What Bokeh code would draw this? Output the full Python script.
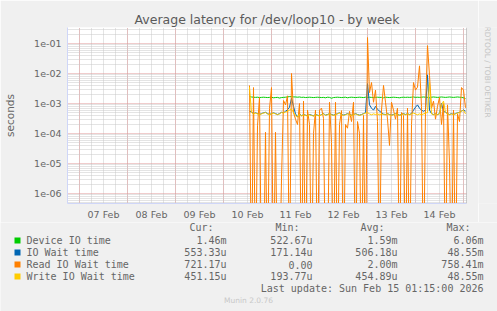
import math
from datetime import datetime, timedelta
import pandas as pd
from bokeh.plotting import figure
from bokeh.layouts import column, row
from bokeh.models import Range1d, FixedTicker, CustomJSTickFormatter, Span
from bokeh.core.properties import value
from bokeh.embed import file_html
from bokeh.resources import INLINE

# ---------------- data ----------------
title_text = "Average latency for /dev/loop10 - by week"
y_label = "seconds"
series_names = ["Device IO time", "IO Wait time", "Read IO Wait time", "Write IO Wait time"]
series_colors = ["#00CC00", "#0066B3", "#FF8000", "#FFCC00"]
col_headers = ["Cur:", "Min:", "Avg:", "Max:"]
cur_vals = ["1.46m", "553.33u", "721.17u", "451.15u"]
min_vals = ["522.67u", "171.14u", "0.00", "193.77u"]
avg_vals = ["1.59m", "506.18u", "2.00m", "454.89u"]
max_vals = ["6.06m", "48.55m", "758.41m", "48.55m"]
last_update = "Last update: Sun Feb 15 01:15:00 2026"
footer = "Munin 2.0.76"
side_text = "RRDTOOL / TOBI OETIKER"

first_sample = "2026-02-10 13:00"   # hourly samples from here on
view_start = datetime(2026, 2, 6, 18, 0)
view_end = datetime(2026, 2, 15, 1, 30)
day_labels = ["07 Feb", "08 Feb", "09 Feb", "10 Feb", "11 Feb", "12 Feb", "13 Feb", "14 Feb"]

# values in milliseconds, one per hour
device_io_ms = [
    1.70, 1.65, 1.62, 1.60, 1.62, 1.58, 1.60, 1.62, 1.60, 1.58, 1.60,
    1.62, 1.55, 1.58, 1.60, 1.52, 1.58, 1.60, 1.62, 1.65, 1.70, 1.68,
    1.66, 1.65, 1.62, 1.65, 1.60, 1.62, 1.58, 1.60, 1.62, 1.60, 1.58,
    1.60, 1.62, 1.60, 1.58, 1.60, 1.55, 1.62, 1.60, 1.50, 1.58, 1.60,
    1.62, 1.60, 1.58, 1.60, 1.62, 1.55, 1.60, 1.62, 1.60, 1.58, 1.60,
    1.62, 1.60, 1.58, 1.62, 1.60, 1.62, 1.60, 1.58, 1.60, 1.62, 1.60,
    1.60, 1.55, 1.62, 1.60, 1.58, 1.60, 1.62, 1.60, 1.58, 1.55, 1.60,
    1.62, 1.60, 1.62, 1.60, 1.62, 1.65, 1.60, 1.62, 1.60, 1.62, 1.65,
    1.62, 1.60, 1.55, 1.62, 1.65, 1.62, 1.60, 1.62, 1.65, 1.62, 1.60,
    1.62, 1.65, 1.62, 1.60, 1.62, 1.65, 1.62, 1.60, 1.55, 1.46,
]
io_wait_ms = [
    0.55, 0.52, 0.46, 0.49, 0.46, 0.43, 0.46, 0.49, 0.51, 0.46, 0.43,
    0.46, 0.49, 0.46, 0.43, 0.46, 0.51, 0.49, 0.55, 0.62, 0.75, 1.50,
    0.80, 0.45, 0.36, 0.46, 0.39, 0.43, 0.41, 0.39, 0.43, 0.41, 0.39,
    0.43, 0.41, 0.39, 0.43, 0.46, 0.41, 0.43, 0.46, 0.43, 0.41, 0.43,
    0.46, 0.49, 0.43, 0.41, 0.43, 0.46, 0.43, 0.41, 0.43, 0.46, 0.43,
    0.41, 0.43, 0.46, 0.49, 4.60, 0.90, 0.70, 0.60, 0.80, 0.65, 0.55,
    0.50, 0.44, 0.43, 0.46, 0.43, 0.41, 0.43, 0.46, 0.43, 0.41, 0.43,
    0.46, 0.43, 0.46, 0.43, 0.46, 0.60, 0.75, 0.90, 0.70, 0.60, 0.55,
    0.60, 9.00, 0.60, 0.46, 0.43, 0.46, 0.43, 0.46, 1.00, 0.55, 0.51,
    0.46, 0.43, 0.46, 0.43, 0.46, 0.49, 0.51, 0.56, 0.61, 0.553,
]
read_io_wait_ms = [
    4.0, 0, 3.4, 0, 0.18, 1.6, 0, 0, 0.11, 0, 0.68,
    3.4, 0, 0.11, 0, 0, 0.003, 1.26, 0.9, 1.8, 0, 10.0,
    0.5, 0.3, 0.2, 1.0, 0, 1.2, 0, 0.6, 0.2, 0, 0.1,
    0.6, 0, 0.6, 0.7, 0.32, 0, 0, 1.1, 0.05, 0, 1.1,
    0, 0.2, 0.58, 0, 0.2, 0.15, 0.55, 0.25, 1.1, 0, 0.25,
    0.1, 0, 0.4, 0, 158.0, 2.3, 5.0, 1.1, 2.8, 0.25, 0,
    0.6, 4.0, 1.1, 0.3, 0.04, 1.1, 0.6, 0.3, 0.7, 0, 0.5,
    0.4, 0, 0.7, 0, 0.2, 5.0, 2.8, 3.5, 18.0, 0.8, 0,
    0.7, 85.0, 8.6, 0.7, 1.2, 0.3, 0.8, 1.6, 0.2, 1.0, 0,
    0.9, 0.01, 0, 0.6, 0, 0.45, 0.25, 3.4, 2.8, 0.72,
]
write_io_wait_ms = [
    3.50, 0.50, 0.45, 0.48, 0.45, 0.42, 0.45, 0.48, 0.50, 0.45, 0.42,
    0.45, 0.48, 0.45, 0.42, 0.45, 0.50, 0.48, 0.52, 0.55, 0.60, 0.65,
    0.50, 0.40, 0.35, 0.45, 0.38, 0.42, 0.40, 0.38, 0.42, 0.40, 0.38,
    0.42, 0.40, 0.38, 0.42, 0.45, 0.40, 0.42, 0.45, 0.42, 0.40, 0.42,
    0.45, 0.48, 0.42, 0.40, 0.42, 0.45, 0.42, 0.40, 0.42, 0.45, 0.42,
    0.40, 0.42, 0.45, 0.48, 0.50, 0.45, 0.42, 0.45, 0.43, 0.45, 0.42,
    0.45, 0.43, 0.42, 0.45, 0.42, 0.40, 0.42, 0.45, 0.42, 0.40, 0.42,
    0.45, 0.42, 0.45, 0.42, 0.45, 0.48, 0.45, 0.42, 0.45, 0.42, 0.45,
    0.48, 0.50, 5.00, 0.45, 0.42, 0.45, 0.42, 0.45, 0.90, 1.20, 0.50,
    0.45, 0.42, 0.45, 0.42, 0.45, 0.48, 0.50, 0.55, 0.60, 0.451,
]

# ---------------- styling / layout ----------------
BG = "#F0F0F0"
FONT_C = "#666666"
AXIS_C = "#CFD6F8"
MGRID = "#E09898"
GRID = "#C8C8C8"
W, H = 497, 311
FL, FR, FT, FB = 67, 466, 27, 203   # frame edges in window pixels
CHART_W, CHART_H = 478, 222          # chart panel; side strip and legend panel around it

times = pd.date_range(first_sample, periods=len(device_io_ms), freq="h")


def to_s(vals):
    # zero cannot be shown on a log axis: push it below the visible range
    return [v / 1000.0 if v > 0 else 1e-9 for v in vals]


def ms(dt):
    return (pd.Timestamp(dt) - pd.Timestamp("1970-01-01")) / pd.Timedelta(milliseconds=1)


p = figure(width=CHART_W, height=CHART_H, x_axis_type="datetime", y_axis_type="log",
           x_range=Range1d(view_start, view_end),
           y_range=Range1d(10 ** -6.3333, 10 ** -0.4667),
           output_backend="svg", toolbar_location=None,
           min_border_left=FL, min_border_right=CHART_W - FR,
           min_border_top=FT, min_border_bottom=CHART_H - FB,
           background_fill_color="white", border_fill_color=BG,
           outline_line_color=None)

p.title.text = title_text
p.title.align = "center"
p.title.text_font = "DejaVu Sans"
p.title.text_font_style = "normal"
p.title.text_font_size = "12.5px"
p.title.text_color = "#5A5A5A"
p.title.standoff = 2

# y axis: decades
decades = [10.0 ** d for d in range(-6, 0)]
minors = [k * 10.0 ** d for d in range(-7, 1) for k in range(2, 10)]
p.yaxis.ticker = FixedTicker(ticks=decades, minor_ticks=minors)
p.yaxis.formatter = CustomJSTickFormatter(code="""
const e = Math.round(Math.log10(tick));
const a = Math.abs(e);
return '1e' + (e < 0 ? '-' : '+') + (a < 10 ? '0' : '') + a;
""")
p.yaxis.axis_label = y_label
p.yaxis.axis_label_text_font = "DejaVu Sans"
p.yaxis.axis_label_text_font_style = "normal"
p.yaxis.axis_label_text_font_size = "10.5px"
p.yaxis.axis_label_text_color = FONT_C
p.yaxis.axis_label_standoff = 15

# x axis: labels at noon, grid at midnight / every 6 hours
day0 = datetime(2026, 2, 7)
noons = [ms(day0 + timedelta(days=i, hours=12)) for i in range(len(day_labels))]
midnights = [ms(day0 + timedelta(days=i)) for i in range(len(day_labels) + 1)]
quarters = [ms(view_start + timedelta(hours=6 * i)) for i in range(0, 34)]
p.xaxis.ticker = FixedTicker(ticks=noons)
p.xaxis.formatter = CustomJSTickFormatter(args=dict(day_names=day_labels, noon_ms=noons), code="""
let best = 0;
for (let i = 0; i < noon_ms.length; i++) {
  if (Math.abs(noon_ms[i] - tick) < Math.abs(noon_ms[best] - tick)) best = i;
}
return day_names[best];
""")
p.xgrid.ticker = FixedTicker(ticks=midnights, minor_ticks=quarters)

for ax in (p.xaxis, p.yaxis):
    ax.axis_line_color = AXIS_C
    ax.major_tick_line_color = None
    ax.minor_tick_line_color = None
    ax.major_tick_out = 0
    ax.major_tick_in = 0
    ax.minor_tick_out = 0
    ax.minor_tick_in = 0
    ax.major_label_text_font = "DejaVu Sans"
    ax.major_label_text_font_size = "9.5px"
    ax.major_label_text_color = FONT_C
    ax.major_label_standoff = 6
p.xaxis.major_label_standoff = 5

for g in (p.xgrid, p.ygrid):
    g.grid_line_color = MGRID
    g.grid_line_dash = "1 1"
    g.minor_grid_line_color = GRID
    g.minor_grid_line_dash = "1 1"

all_series = [device_io_ms, io_wait_ms, read_io_wait_ms, write_io_wait_ms]
for vals, col in zip(all_series, series_colors):
    p.line(x=times, y=to_s(vals), line_color=col, line_width=1)

p.add_layout(Span(location=ms(times[-1]) + 30 * 60 * 1000, dimension="height",
                  line_color="#9A9A9A", line_width=1))


def blank(width, height, x0, x1, y0, y1):
    f = figure(width=width, height=height, x_range=Range1d(x0, x1), y_range=Range1d(y0, y1),
               output_backend="svg", toolbar_location=None,
               x_axis_location=None, y_axis_location=None,
               min_border=0, min_border_left=0, min_border_right=0,
               min_border_top=0, min_border_bottom=0,
               background_fill_color=BG, border_fill_color=BG, outline_line_color=None)
    f.grid.visible = False
    return f


# side strip (window x 478..497, y 0..222); data y = window y, flipped range
side = blank(W - CHART_W, CHART_H, CHART_W, W, CHART_H, 0)
side.text(x=[487], y=[53], text=[side_text], angle=-math.pi / 2, text_align="center",
          text_baseline="middle", text_font=value("DejaVu Sans"), text_font_size="7.5px",
          text_color="#C4C4C4")

# legend panel (window x 0..497, y 222..311); data coords = window pixels
leg = blank(W, H - CHART_H, 0, W, H, CHART_H)
col_right = [226, 312, 397, 483]
row_y = [240, 252, 264, 276]
mono = value("DejaVu Sans Mono")
leg.text(x=[xr - 13 for xr in col_right], y=[227] * 4, text=col_headers, text_align="right",
         text_baseline="middle", text_font=mono, text_font_size="10px", text_color=FONT_C)
leg.quad(left=[14] * 4, right=[20] * 4, top=[y - 3 for y in row_y], bottom=[y + 3 for y in row_y],
         fill_color=series_colors, line_color=None)
leg.text(x=[26] * 4, y=row_y, text=series_names, text_align="left", text_baseline="middle",
         text_font=mono, text_font_size="10px", text_color=FONT_C)
for xr, vals in zip(col_right, (cur_vals, min_vals, avg_vals, max_vals)):
    leg.text(x=[xr] * 4, y=row_y, text=vals, text_align="right", text_baseline="middle",
             text_font=mono, text_font_size="10px", text_color=FONT_C)
leg.text(x=[483], y=[288], text=[last_update], text_align="right", text_baseline="middle",
         text_font=mono, text_font_size="10px", text_color=FONT_C)
leg.text(x=[248], y=[300], text=[footer], text_align="center", text_baseline="middle",
         text_font=value("DejaVu Sans"), text_font_size="7.5px", text_color="#C8C8C8")

layout = column(row(p, side, spacing=0), leg, spacing=0)
open("out.html", "w").write(file_html(layout, INLINE))
